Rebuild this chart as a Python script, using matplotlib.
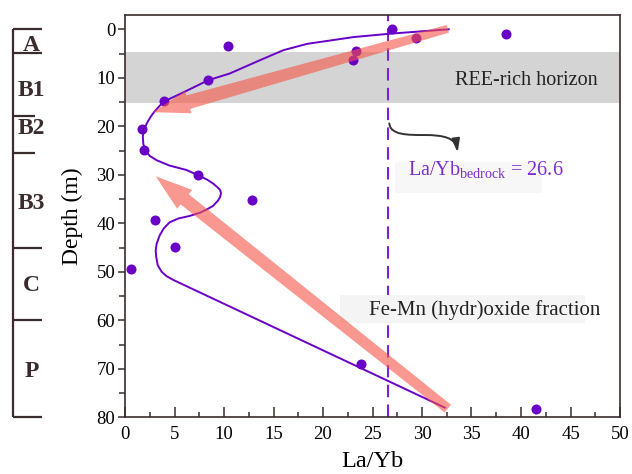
import numpy as np
import matplotlib
matplotlib.use('Agg')
from matplotlib import pyplot as plt
from matplotlib.patches import Polygon, Rectangle, FancyArrowPatch
from matplotlib.path import Path
from matplotlib.transforms import blended_transform_factory

plt.rcParams['font.family'] = ['Liberation Serif', 'DejaVu Serif']
plt.rcParams['mathtext.fontset'] = 'custom'
plt.rcParams['mathtext.rm'] = 'Liberation Serif'
plt.rcParams['mathtext.it'] = 'Liberation Serif:italic'

# samples: La/Yb vs depth
sample_layb = [27.0, 38.5, 29.4, 10.4, 23.3, 23.0, 8.4, 3.9, 1.7, 1.9, 7.4,
               12.8, 3.0, 5.0, 0.6, 23.8, 41.5]
sample_depth = [0.0, 0.9, 1.7, 3.4, 4.5, 6.4, 10.5, 14.8, 20.6, 24.9, 30.1,
                35.1, 39.4, 44.9, 49.5, 69.0, 78.3]

# hand-drawn trend line
trend_layb = [32.7, 26.8, 23.1, 18.4, 16.0, 13.6, 10.6, 8.4, 5.6, 3.9, 3.0,
              2.6, 2.2, 1.9, 1.8, 1.85, 2.0, 2.5, 3.2, 4.5, 6.2, 7.4, 8.3,
              8.9, 9.3, 9.6, 9.7, 9.6, 9.4, 8.9, 8.3, 7.6, 6.5, 5.4, 4.5,
              3.9, 3.5, 3.2, 3.1, 3.15, 3.3, 3.7, 4.2, 4.9, 32.3]
trend_depth = [0.0, 0.9, 1.6, 3.0, 4.3, 6.4, 9.1, 10.5, 13.3, 14.9, 16.9,
               18.0, 19.4, 20.8, 22.2, 23.6, 24.9, 26.1, 27.0, 28.1, 29.0,
               30.1, 31.0, 31.8, 32.5, 33.1, 33.8, 34.6, 35.3, 36.4, 37.1,
               37.8, 38.5, 39.0, 39.8, 41.1, 42.5, 44.2, 45.6, 46.9, 48.6,
               50.0, 50.9, 51.7, 78.0]

bedrock = 26.6
ree_band = (4.7, 15.2)

# soil profile horizons
horizon_names = ['A', 'B1', 'B2', 'B3', 'C', 'P']
horizon_bounds = [0, 4.8, 17.8, 25.5, 45.0, 60.0, 80.0]
horizon_label_depth = [2.8, 12.0, 20.0, 35.5, 52.4, 70.1]

PURPLE = '#6a00c8'
DASH = '#7b22d4'
ARROW = '#f65446'
DARK = '#3a2c2c'

fig = plt.figure(figsize=(6.32, 4.74), dpi=100)
ax = fig.add_axes([125 / 632, 1 - 417.3 / 474, 495 / 632, 402.3 / 474])
ax.set_xlim(0, 50)
ax.set_ylim(80, -2.95)

ax.axhspan(*ree_band, color='#d4d4d4', lw=0, zorder=0)
ax.axvline(bedrock, color=DASH, lw=1.5, dashes=(6, 3.5), zorder=1)

ax.plot(trend_layb, trend_depth, color=PURPLE, lw=1.4, zorder=3)
ax.scatter(sample_layb, sample_depth, s=52, color=PURPLE, lw=0, zorder=4)


def fat_arrow(tail, tip, w_tail, w_head, head_w, head_len):
    t = ax.transData.transform(tail)
    h = ax.transData.transform(tip)
    u = (h - t) / np.hypot(*(h - t))
    n = np.array([-u[1], u[0]])
    base = h - u * head_len
    pts = [t + n * w_tail / 2, base + n * w_head / 2, base + n * head_w / 2, h,
           base - n * head_w / 2, base - n * w_head / 2, t - n * w_tail / 2]
    pts = ax.transData.inverted().transform(np.array(pts))
    ax.add_patch(Polygon(pts, closed=True, color=ARROW, alpha=0.6, lw=0,
                         zorder=5))


fat_arrow((32.6, -0.1), (2.8, 17.1), 8, 14, 23, 37)
fat_arrow((32.6, 78.2), (3.1, 30.3), 10, 13, 24, 37)

# text boxes
ax.add_patch(Rectangle((27.3, 27.4), 14.8, 6.4, color='#f7f7f7', lw=0, zorder=2))
ax.add_patch(Rectangle((21.7, 54.8), 24.8, 5.8, color='#f4f4f4', lw=0, zorder=2))

ax.text(40.5, 10.5, 'REE-rich horizon', fontsize=14.5, ha='center',
        va='center', color='#222222', zorder=6)
ax.text(28.6, 29.0, r'La/Yb$_{\mathrm{bedrock}}$ = 26.6', fontsize=14.5,
        ha='left', va='center', color='#7b2fd0', zorder=6)
ax.text(36.3, 57.8, 'Fe-Mn (hydr)oxide fraction', fontsize=15, ha='center',
        va='center', color='#222222', zorder=6)

# small curved pointer
verts = [(26.7, 19.4), (26.8, 21.8), (28.5, 21.8), (30.3, 21.8),
         (32.2, 21.8), (33.4, 22.4), (33.6, 25.4)]
codes = [Path.MOVETO] + [Path.CURVE4] * 6
ax.add_patch(FancyArrowPatch(path=Path(verts, codes), color='#333333', lw=1.4,
                             arrowstyle='-|>,head_length=1.0,head_width=0.3',
                             mutation_scale=8, zorder=6))

# axes styling
ax.set_xticks(np.arange(0, 51, 5))
ax.set_xticks(np.arange(0, 50, 2.5), minor=True)
ax.set_yticks(np.arange(0, 81, 10))
ax.set_yticks(np.arange(5, 80, 10), minor=True)
ax.tick_params(axis='x', which='major', direction='in', length=7, width=1.1,
               labelsize=13.5, pad=6, color=DARK)
ax.tick_params(axis='x', which='minor', direction='in', length=3.5, width=1.1,
               color=DARK)
ax.tick_params(axis='y', which='major', direction='out', length=5, width=1.1,
               labelsize=13.5, pad=2, color=DARK)
ax.tick_params(axis='y', which='minor', direction='out', length=4, width=1.1,
               color=DARK)
for s in ax.spines.values():
    s.set_color(DARK)
    s.set_linewidth(1.2)

ax.set_xlabel('La/Yb', fontsize=17.5, va='top')
ax.xaxis.set_label_coords(0.5, -0.085)
ax.set_ylabel('Depth (m)', fontsize=17, va='center')
ax.yaxis.set_label_coords(-0.107, 0.5)

# horizon column on the left
tr = blended_transform_factory(fig.transFigure, ax.transData)
x_line = 13.3 / 632
ax.plot([x_line, x_line], [horizon_bounds[0], horizon_bounds[-1]],
        color=DARK, lw=1.6, transform=tr, clip_on=False, solid_capstyle='butt')
for i, b in enumerate(horizon_bounds):
    x_end = 35 / 632 if i in (2, 3) else 41.7 / 632
    ax.plot([x_line, x_end], [b, b], color=DARK, lw=1.6, transform=tr,
            clip_on=False, solid_capstyle='butt')
for name, d in zip(horizon_names, horizon_label_depth):
    ax.text(31.5 / 632, d, name, transform=tr, fontsize=17, weight='bold',
            ha='center', va='center_baseline', color=DARK)

fig.savefig('out.png', dpi=100)
